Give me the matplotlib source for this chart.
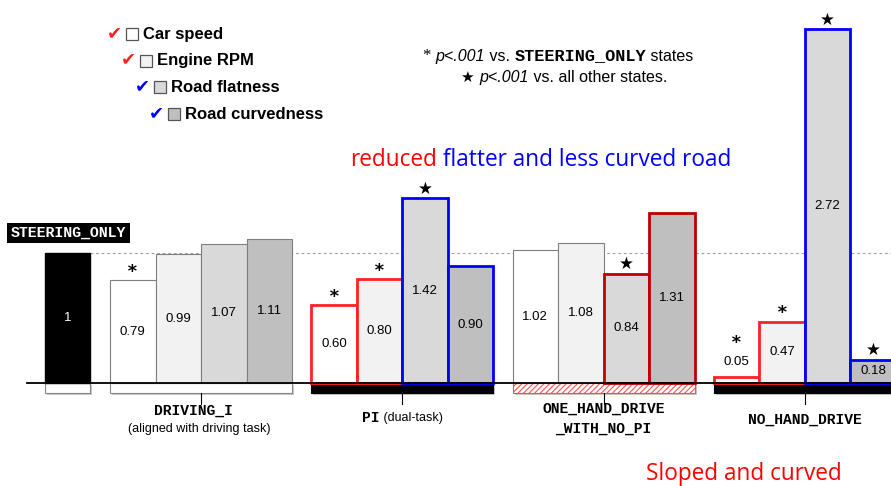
import matplotlib.pyplot as plt
from matplotlib.patches import Rectangle

# data
features = ['Car speed', 'Engine RPM', 'Road flatness', 'Road curvedness']
feature_fills = ['#ffffff', '#f2f2f2', '#d9d9d9', '#bfbfbf']
check_colors = ['#ff2020', '#ff2020', '#0000ff', '#0000ff']

steering_only = 1.0
driving_i = [0.79, 0.99, 1.07, 1.11]
pi = [0.60, 0.80, 1.42, 0.90]
one_hand = [1.02, 1.08, 0.84, 1.31]
no_hand = [0.05, 0.47, 2.72, 0.18]

driving_i_sig = ['*', '', '', '']
pi_sig = ['*', '*', '★', '']
one_hand_sig = ['', '', '★', '']
no_hand_sig = ['*', '*', '★', '★']

RED = '#ff2020'
DRED = '#c00000'
BLUE = '#0000ff'
GREY = '#7f7f7f'

groups = [
    dict(vals=driving_i, sig=driving_i_sig, edges=[GREY] * 4, lws=[0.8] * 4,
         box=dict(fc='white', ec='#888888', hatch=None)),
    dict(vals=pi, sig=pi_sig, edges=[RED, RED, BLUE, BLUE], lws=[2.0] * 4,
         box=dict(fc='black', ec='black', hatch=None)),
    dict(vals=one_hand, sig=one_hand_sig, edges=[GREY, GREY, DRED, DRED],
         lws=[0.8, 0.8, 2.0, 2.0],
         box=dict(fc='white', ec='#ff5050', hatch='//////')),
    dict(vals=no_hand, sig=no_hand_sig, edges=[RED, RED, BLUE, BLUE], lws=[2.0] * 4,
         box=dict(fc='black', ec='black', hatch=None)),
]

plt.rcParams['hatch.linewidth'] = 0.8
fig = plt.figure(figsize=(8.91, 4.86), dpi=100)
ax = fig.add_axes([0, 0, 1, 1])
ax.set_xlim(0, 891)
ax.set_ylim(-0.792, 2.946)
ax.axis('off')

bw = 45.5
box_h = 0.077
num_font = dict(family='Liberation Sans', fontsize=9.5)
mono = dict(family='Liberation Mono', fontweight='bold')

# reference line at steering level
ax.plot([90, 891], [steering_only, steering_only], ls=(0, (2.5, 2.5)),
        color='#a0a0a0', lw=0.8, zorder=0)


def under_box(left, width, fc, ec, hatch):
    ax.add_patch(Rectangle((left + 2, -box_h - 0.018), width, box_h,
                           fc='#c8c8c8', ec='none', zorder=1))
    ax.add_patch(Rectangle((left, -box_h), width, box_h, fc=fc, ec=ec,
                           hatch=hatch, lw=0.8, zorder=2))


# STEERING_ONLY bar
ax.bar(67.5, steering_only, width=45, color='black', edgecolor='black', zorder=3)
ax.text(67.5, steering_only / 2, '1', color='white', ha='center', va='center', **num_font)
under_box(45, 45, 'white', '#888888', None)
ax.text(68.5, 1.154, 'STEERING_ONLY', color='white', ha='center', va='center',
        fontsize=10.7, bbox=dict(fc='black', ec='none', pad=2.5), **mono)

centers = []
for g, grp in enumerate(groups):
    c = 201 + 201.3 * g
    centers.append(c)
    for i, v in enumerate(grp['vals']):
        x = c + (i - 1.5) * bw
        ax.bar(x, v, width=bw, color=feature_fills[i], edgecolor=grp['edges'][i],
               linewidth=grp['lws'][i], zorder=3 + (grp['lws'][i] > 1))
        if v < 0.1:
            ax.text(x, v + 0.11, f'{v:.2f}', ha='center', va='center', zorder=6, **num_font)
            sig_y = v + 0.27
        else:
            ax.text(x, v / 2, f'{v:.2f}', ha='center', va='center', zorder=6, **num_font)
            sig_y = v + 0.075
        s = grp['sig'][i]
        if s == '*':
            ax.text(x, sig_y - 0.01, '*', ha='center', va='center', fontsize=13,
                    family='DejaVu Sans Mono', fontweight='bold', zorder=6)
        elif s:
            ax.text(x, sig_y, s, ha='center', va='center', fontsize=12,
                    family='DejaVu Sans', zorder=6)
    b = grp['box']
    under_box(c - 2 * bw, 4 * bw, b['fc'], b['ec'], b['hatch'])
    ax.plot([c, c], [-box_h, -0.165], color='black', lw=0.8, zorder=2)

# baseline
ax.plot([27, 891], [0, 0], color='black', lw=1.3, zorder=7)

# group labels
sub_font = dict(family='Liberation Sans', fontsize=9)
ax.text(centers[0] - 8, -0.215, 'DRIVING_I', ha='center', va='center', fontsize=10.5, **mono)
ax.text(centers[0] - 2, -0.35, '(aligned with driving task)', ha='center', va='center',
        **sub_font)
t = ax.text(362, -0.27, 'PI', ha='left', va='center', fontsize=10.5, **mono)
ax.annotate(' (dual-task)', xy=(1, 0.5), xycoords=t, ha='left', va='center', **sub_font)
ax.text(centers[2], -0.2, 'ONE_HAND_DRIVE', ha='center', va='center', fontsize=10.5, **mono)
ax.text(centers[2], -0.355, '_WITH_NO_PI', ha='center', va='center', fontsize=10.5, **mono)
ax.text(centers[3], -0.285, 'NO_HAND_DRIVE', ha='center', va='center', fontsize=10.5, **mono)

# legend
for k, (name, fill, cc) in enumerate(zip(features, feature_fills, check_colors)):
    y0 = 2.946 - (34 + 26.7 * k) / 130
    ax.text(107 + 14 * k, y0 + 0.01, '✔', color=cc, ha='left', va='center', fontsize=13,
            family='DejaVu Sans')
    bx = 126 + 14 * k
    ax.add_patch(Rectangle((bx, y0 - 0.045), 12, 0.092, fc=fill, ec='#555555', lw=0.9))
    ax.text(143 + 14 * k, y0, name, ha='left', va='center', fontsize=12,
            family='Liberation Sans', fontweight='bold')

# significance note
note = dict(fontsize=11.5, family='Liberation Sans')
y1 = 2.946 - 56 / 130
t = ax.text(423, y1, '* ', ha='left', va='center', fontsize=12, family='Liberation Serif')
t = ax.annotate('p<.001', xy=(1, 0.5), xycoords=t, ha='left', va='center', style='italic',
                **note)
t = ax.annotate(' vs. ', xy=(1, 0.5), xycoords=t, ha='left', va='center', **note)
t = ax.annotate('STEERING_ONLY', xy=(1, 0.5), xycoords=t, ha='left', va='center',
                fontsize=12.2, **mono)
ax.annotate(' states', xy=(1, 0.5), xycoords=t, ha='left', va='center', **note)
y2 = 2.946 - 77 / 130
t = ax.text(461, y2, '★ ', ha='left', va='center', fontsize=11, family='DejaVu Sans')
t = ax.annotate('p<.001', xy=(1, 0.5), xycoords=t, ha='left', va='center', style='italic',
                **note)
ax.annotate(' vs. all other states.', xy=(1, 0.5), xycoords=t, ha='left', va='center',
            **note)

# colored annotations
yt = 2.946 - 160 / 130
t = ax.text(350, yt, 'reduced', color='#ff0000', ha='left', va='center', fontsize=16.3,
            family='Open Sans')
ax.annotate(' flatter and less curved road', xy=(1, 0.5), xycoords=t, ha='left',
            va='center', color='#0000ff', fontsize=16.3, family='Open Sans')
ax.text(646, 2.946 - 474 / 130, 'Sloped and curved', color='#ff0000', ha='left',
        va='center', fontsize=16.3, family='Open Sans')

fig.savefig('out.png', dpi=100)
